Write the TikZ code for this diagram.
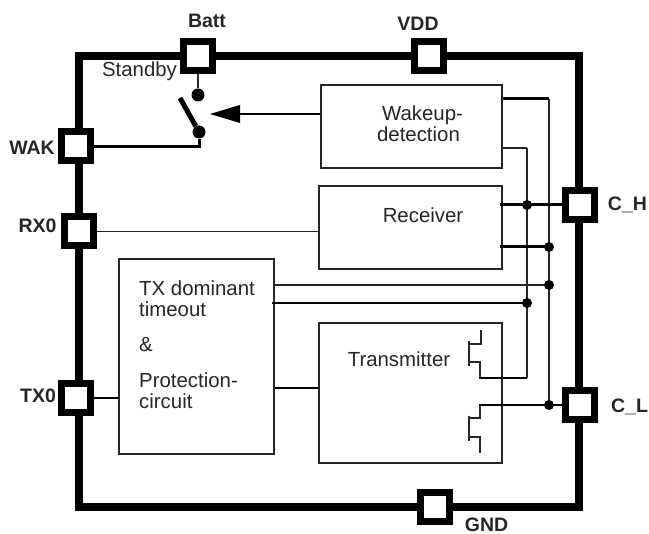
\documentclass[tikz,border=0pt]{standalone}
\usepackage{fontspec}
\setmainfont{Liberation Sans}
\usetikzlibrary{calc}
\definecolor{ink}{HTML}{262626}
\tikzset{
  x=1pt,y=-1pt,
  framewire/.style={line width=8pt,line join=miter},
  pad/.style={draw=black,fill=white,line width=7pt,minimum size=29pt,inner sep=0pt},
  block/.style={draw=ink,line width=1.1pt,inner sep=0pt},
  thinw/.style={draw=ink,line width=1.4pt},
  medw/.style={draw=black,line width=2pt},
  thickw/.style={draw=black,line width=3pt},
  fet/.style={draw=ink,line width=1.3pt},
  joint/.style={circle,fill=black,inner sep=0pt,minimum size=10pt},
  bigjoint/.style={circle,fill=black,inner sep=0pt,minimum size=13pt},
  pinlabel/.style={font=\fontsize{19.5}{21}\selectfont\bfseries,text=ink,inner sep=0pt},
  txt/.style={font=\fontsize{20.4}{21}\selectfont,text=ink,inner sep=0pt},
}
\begin{document}
\begin{tikzpicture}
\useasboundingbox (0,0) rectangle (649,534);
\fill[white] (0,0) rectangle (649,534);
\coordinate (tl) at (79,56);
\coordinate (br) at (579,507);
\draw[framewire] (tl) rectangle (br);
% pads
\node[pad] (batt) at (198,56) {};
\node[pad] (vdd) at (429,56) {};
\node[pad] (wak) at (75.5,146.5) {};
\node[pad] (rx) at (78.5,231.5) {};
\node[pad] (tx) at (75.5,398) {};
\node[pad] (ch) at (580,205) {};
\node[pad] (cl) at (580,405) {};
\node[pad] (gnd) at (435,507) {};
% blocks
\node[block,minimum width=181pt,minimum height=83pt] (wake) at (411.5,126.5) {};
\node[block,minimum width=183pt,minimum height=83pt] (recv) at (410.5,227.5) {};
\node[block,minimum width=155pt,minimum height=195pt] (txdom) at (196.5,356.5) {};
\node[block,minimum width=183pt,minimum height=140pt] (trans) at (410.5,393) {};
% texts
\node[txt,align=left] at (420,124) {\hspace*{5pt}Wakeup-\\detection};
\node[txt] at (423,215) {Receiver};
\node[txt] at (399,359) {Transmitter};
\node[txt,anchor=west,align=left] at (139,345) {TX dominant\\timeout\\[14pt]\&\\[15pt]Protection-\\circuit};
\node[txt] at (139.5,71) {Standby};
\node[pinlabel] at (207,21) {Batt};
\node[pinlabel] at (418,24) {VDD};
\node[pinlabel] at (32,148) {WAK};
\node[pinlabel] at (37.5,225.5) {RX0};
\node[pinlabel] at (38,396) {TX0};
\node[pinlabel] at (627.5,205) {C\_H};
\node[pinlabel] at (629.5,406.5) {C\_L};
\node[pinlabel] at (486.5,525) {GND};
% switch
\node[bigjoint] (swtop) at (198,95) {};
\node[bigjoint] (swbot) at (199,132) {};
\coordinate (armend) at (180,98);
\draw[draw=black,line width=5pt] (armend) -- (swbot);
\draw[thinw,line width=1.5pt] (batt) -- (swtop);
\draw[medw,line width=3pt] (wak.east) -- (wak.east -| swbot) -- (swbot);
% arrow
\coordinate (arrowtip) at (210,114);
\draw[medw,line width=2.5pt] (arrowtip -| wake.west) -- (240,114);
\fill[black] (arrowtip) -- (240,105) -- (240,123) -- cycle;
% rx, tx links
\draw[thinw] (rx.east) -- (recv.west |- rx.east);
\draw[medw] (tx.east) -- (txdom.west |- tx.east);
\draw[medw] (txdom.east |- 0,388) coordinate (a1) -- (trans.west |- a1);
% rails
\coordinate (rO) at (549,99);
\coordinate (rI) at (527,148);
\draw[thinw] (rO) -- (rO |- cl);
\draw[thinw] (rI) -- (527,378);
\draw[thickw] (wake.east |- rO) -- (rO);
\draw[thinw,line width=1.5pt] (wake.east |- rI) -- (rI);
% receiver
\draw[thickw] (500,205) -- (ch.west);
\node[joint] at (rI |- ch) {};
\coordinate (r2) at (500,247);
\draw[thickw] (r2) -- (r2 -| rO);
\node[joint] at (r2 -| rO) {};
% tx dominant outputs
\coordinate (t1) at (549,285);
\coordinate (t2) at (527,303);
\draw[draw=ink,line width=1.5pt] (txdom.east |- t1) -- (t1);
\draw[medw] (272,303) -- (t2);
\node[joint] at (t1) {};
\node[joint] at (t2) {};
% transistors
\draw[fet] (481,330) -- (481,344) -- (470,344);
\draw[fet,line width=1.8pt] (469,341) -- (469,366);
\draw[fet] (470,362) -- (480,362) -- (480,378);
\draw[thickw,line width=2.5pt] (479,378) -- (527,378);
\draw[fet] (480,405) -- (480,418) -- (470,418);
\draw[fet,line width=1.8pt] (469,416) -- (469,441);
\draw[fet] (470,437) -- (480,437) -- (480,453);
\draw[medw,line width=2.5pt] (479,405) -- (cl.west);
\node[joint] at (rO |- cl) {};
\end{tikzpicture}
\end{document}
